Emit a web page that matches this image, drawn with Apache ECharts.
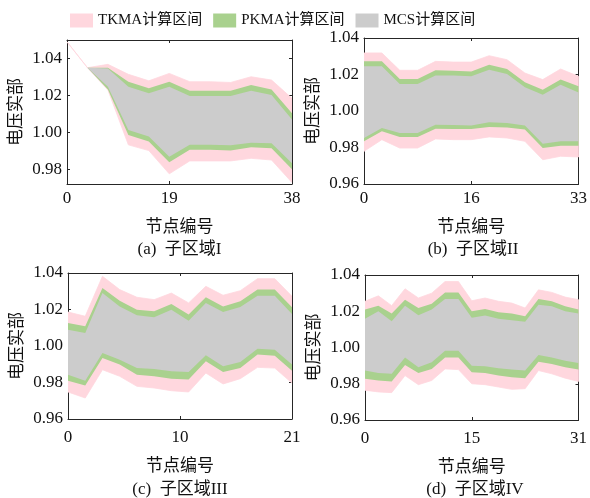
<!DOCTYPE html>
<html>
<head>
<meta charset="utf-8">
<script src="https://cdn.jsdelivr.net/npm/echarts@6/dist/echarts.min.js"></script>
<style>
  html, body { margin: 0; padding: 0; background: #fff; }
  #chart { width: 590px; height: 498px; }
</style>
</head>
<body>
<div id="chart"></div>
<script>
// legend names and band colours
const bandNames = ['TKMA计算区间', 'PKMA计算区间', 'MCS计算区间'];
const bandColors = ['#ffd7de', '#a9d18e', '#cccccc'];

// (a) 子区域I, 12 points
const aTkUp = [1.049, 1.035, 1.0368, 1.0314, 1.0279, 1.0319, 1.0274, 1.0274, 1.027, 1.0301, 1.0283, 1.0184];
const aTkLo = [1.049, 1.035, 1.0229, 0.9932, 0.9901, 0.9775, 0.9845, 0.9845, 0.9845, 0.9859, 0.985, 0.9728];
const aPkUp = [1.049, 1.035, 1.035, 1.0274, 1.0238, 1.0274, 1.0225, 1.0225, 1.0225, 1.0256, 1.0232, 1.0103];
const aPkLo = [1.049, 1.035, 1.0232, 0.9986, 0.995, 0.9838, 0.9905, 0.9905, 0.9901, 0.9919, 0.9914, 0.98];
const aMcUp = [1.049, 1.035, 1.0346, 1.0247, 1.0211, 1.0247, 1.0196, 1.0196, 1.0196, 1.0225, 1.0202, 1.007];
const aMcLo = [1.049, 1.035, 1.0247, 1.0013, 0.9977, 0.9868, 0.9932, 0.9932, 0.993, 0.9944, 0.9941, 0.9832];

// (b) 子区域II, 13 points
const bTkUp = [1.0318, 1.0318, 1.0223, 1.0223, 1.0272, 1.0268, 1.0268, 1.0303, 1.0281, 1.0208, 1.0172, 1.023, 1.019];
const bTkLo = [0.9779, 0.9843, 0.9797, 0.9797, 0.9847, 0.9843, 0.9843, 0.9858, 0.9852, 0.9834, 0.9733, 0.9752, 0.9748];
const bPkUp = [1.0272, 1.0272, 1.0175, 1.0175, 1.0223, 1.0221, 1.0217, 1.0254, 1.023, 1.0157, 1.0117, 1.0172, 1.0135];
const bPkLo = [0.9834, 0.9889, 0.9858, 0.9858, 0.9903, 0.9901, 0.9901, 0.9912, 0.991, 0.9898, 0.9797, 0.981, 0.981];
const bMcUp = [1.0245, 1.0245, 1.0148, 1.0148, 1.0194, 1.0194, 1.019, 1.0226, 1.0203, 1.013, 1.0089, 1.0144, 1.0102];
const bMcLo = [0.9852, 0.9907, 0.9879, 0.9879, 0.9925, 0.9923, 0.9921, 0.9938, 0.9934, 0.992, 0.9821, 0.9834, 0.9834];

// (c) 子区域III, 14 points
const cTkUp = [1.0186, 1.0163, 1.0382, 1.0309, 1.0267, 1.0254, 1.029, 1.0236, 1.0327, 1.0278, 1.0303, 1.0369, 1.0369, 1.0272];
const cTkLo = [0.9748, 0.9715, 0.987, 0.9834, 0.9779, 0.977, 0.9755, 0.9748, 0.9852, 0.9792, 0.9821, 0.9883, 0.9879, 0.9797];
const cPkUp = [1.0126, 1.0108, 1.0318, 1.0248, 1.0199, 1.019, 1.023, 1.0172, 1.0267, 1.0217, 1.0245, 1.0309, 1.0309, 1.0212];
const cPkLo = [0.981, 0.9783, 0.9934, 0.9898, 0.9843, 0.9834, 0.9821, 0.9816, 0.9916, 0.9858, 0.9879, 0.9953, 0.9947, 0.9865];
const cMcUp = [1.0089, 1.0071, 1.029, 1.0217, 1.0168, 1.0157, 1.0199, 1.0139, 1.0236, 1.0186, 1.0214, 1.0276, 1.0276, 1.0175];
const cMcLo = [0.9843, 0.981, 0.9962, 0.9925, 0.9879, 0.9874, 0.9861, 0.9858, 0.9949, 0.9889, 0.9912, 0.9985, 0.998, 0.9898];

// (d) 子区域IV, 17 points
const dTkUp = [1.0255, 1.0285, 1.0231, 1.0324, 1.0273, 1.03, 1.0364, 1.0364, 1.0258, 1.0273, 1.0255, 1.0245, 1.0218, 1.0318, 1.0304, 1.0278, 1.0264];
const dTkLo = [0.9764, 0.9755, 0.9751, 0.9845, 0.9795, 0.9818, 0.9882, 0.9878, 0.98, 0.9795, 0.9782, 0.9769, 0.9773, 0.9873, 0.9855, 0.9831, 0.9813];
const dPkUp = [1.0209, 1.0231, 1.0187, 1.0264, 1.0218, 1.0242, 1.0304, 1.0304, 1.02, 1.0213, 1.0195, 1.0187, 1.0173, 1.0267, 1.0255, 1.0227, 1.0209];
const dPkLo = [0.9827, 0.9818, 0.9813, 0.9904, 0.986, 0.9882, 0.9945, 0.9945, 0.9864, 0.986, 0.9845, 0.9836, 0.9831, 0.9922, 0.9909, 0.9891, 0.9878];
const dMcUp = [1.0158, 1.02, 1.0145, 1.0231, 1.0178, 1.0209, 1.0267, 1.0267, 1.0164, 1.0176, 1.0158, 1.0151, 1.0142, 1.0236, 1.0227, 1.02, 1.0187];
const dMcLo = [0.9873, 0.986, 0.9855, 0.9945, 0.9891, 0.9918, 0.9982, 0.9982, 0.99, 0.9896, 0.9885, 0.9878, 0.9873, 0.9958, 0.9945, 0.9927, 0.9915];

// x tick positions (point index) and their node labels
const aTickPos = [0, 5, 11];
const aTickLabels = ['0', '19', '38'];
const bTickPos = [0, 6, 12];
const bTickLabels = ['0', '16', '33'];
const cTickPos = [0, 6.5, 13];
const cTickLabels = ['0', '10', '21'];
const dTickPos = [0, 8, 16];
const dTickLabels = ['0', '15', '31'];

const yTicks = [0.96, 0.98, 1.0, 1.02, 1.04];

const panels = [
  { bands: [[aTkLo, aTkUp], [aPkLo, aPkUp], [aMcLo, aMcUp]], tickPos: aTickPos, tickLabels: aTickLabels,
    yMin: 0.972, yMax: 1.05, caption: '(a)  子区域I', captionY: 250, labelMargin: 6, nameGap: 35,
    grid: { left: 67, top: 40, width: 225, height: 144 } },
  { bands: [[bTkLo, bTkUp], [bPkLo, bPkUp], [bMcLo, bMcUp]], tickPos: bTickPos, tickLabels: bTickLabels,
    yMin: 0.96, yMax: 1.04, caption: '(b)  子区域II', captionY: 250, labelMargin: 6, nameGap: 35,
    grid: { left: 364, top: 38, width: 218, height: 146 } },
  { bands: [[cTkLo, cTkUp], [cPkLo, cPkUp], [cMcLo, cMcUp]], tickPos: cTickPos, tickLabels: cTickLabels,
    yMin: 0.96, yMax: 1.04, caption: '(c)  子区域III', captionY: 490, labelMargin: 10, nameGap: 39,
    grid: { left: 68, top: 273, width: 224, height: 146 } },
  { bands: [[dTkLo, dTkUp], [dPkLo, dPkUp], [dMcLo, dMcUp]], tickPos: dTickPos, tickLabels: dTickLabels,
    yMin: 0.96, yMax: 1.04, caption: '(d)  子区域IV', captionY: 490, labelMargin: 10, nameGap: 39,
    grid: { left: 365, top: 275, width: 220, height: 145 } },
];

const FONT = '"Liberation Serif", "Noto Sans CJK SC", serif';
const AXIS_COLOR = '#262626';
const TEXT_COLOR = '#111';

const grids = [];
const xAxes = [];
const yAxes = [];
const series = [];
const graphics = [];

function bandRender(lo, hi, color, outline) {
  return function (params, api) {
    if (params.dataIndex !== 0) return null;
    const pts = [];
    for (let i = 0; i < hi.length; i += 1) pts.push(api.coord([i, hi[i]]));
    for (let i = lo.length - 1; i >= 0; i -= 1) pts.push(api.coord([i, lo[i]]));
    const style = { fill: color };
    if (outline) {
      // keeps the zero-width start of panel (a) visible as a thin line
      style.stroke = color;
      style.lineWidth = 0.8;
    }
    return { type: 'polygon', shape: { points: pts }, style };
  };
}

panels.forEach((p, gi) => {
  const n = p.bands[0][0].length;
  grids.push(Object.assign({ show: false }, p.grid));
  const yt = yTicks.filter((v) => v >= p.yMin - 1e-9 && v <= p.yMax + 1e-9);

  const xi = xAxes.length;
  xAxes.push({
    type: 'value', gridIndex: gi, position: 'bottom', min: 0, max: n - 1,
    axisLine: { show: true, onZero: false, lineStyle: { color: AXIS_COLOR, width: 1 } },
    axisTick: { show: true, inside: true, length: 3, customValues: p.tickPos, lineStyle: { color: AXIS_COLOR } },
    axisLabel: {
      customValues: p.tickPos, margin: p.labelMargin, fontSize: 17, fontFamily: FONT, color: TEXT_COLOR,
      formatter: (v) => p.tickLabels[p.tickPos.indexOf(v)],
    },
    splitLine: { show: false },
    name: '节点编号', nameLocation: 'middle', nameGap: p.nameGap,
    nameTextStyle: { fontSize: 17, fontFamily: FONT, color: TEXT_COLOR },
  });
  xAxes.push({
    type: 'value', gridIndex: gi, position: 'top', min: 0, max: n - 1,
    axisLine: { show: true, onZero: false, lineStyle: { color: AXIS_COLOR, width: 1 } },
    axisTick: { show: true, inside: true, length: 3, customValues: p.tickPos, lineStyle: { color: AXIS_COLOR } },
    axisLabel: { show: false }, splitLine: { show: false },
  });

  const yi = yAxes.length;
  yAxes.push({
    type: 'value', gridIndex: gi, position: 'left', min: p.yMin, max: p.yMax,
    axisLine: { show: true, onZero: false, lineStyle: { color: AXIS_COLOR, width: 1 } },
    axisTick: { show: true, inside: true, length: 3, customValues: yt, lineStyle: { color: AXIS_COLOR } },
    axisLabel: {
      customValues: yt, margin: 5, fontSize: 17, fontFamily: FONT, color: TEXT_COLOR,
      formatter: (v) => v.toFixed(2),
    },
    splitLine: { show: false },
    name: '电压实部', nameLocation: 'middle', nameGap: 42,
    nameTextStyle: { fontSize: 17, fontFamily: FONT, color: TEXT_COLOR },
  });
  yAxes.push({
    type: 'value', gridIndex: gi, position: 'right', min: p.yMin, max: p.yMax,
    axisLine: { show: true, onZero: false, lineStyle: { color: AXIS_COLOR, width: 1 } },
    axisTick: { show: true, inside: true, length: 3, customValues: yt, lineStyle: { color: AXIS_COLOR } },
    axisLabel: { show: false }, splitLine: { show: false },
  });

  p.bands.forEach((b, k) => {
    const [lo, hi] = b;
    series.push({
      name: bandNames[k],
      type: 'custom',
      xAxisIndex: xi,
      yAxisIndex: yi,
      clip: true,
      silent: true,
      itemStyle: { color: bandColors[k] },
      encode: { x: 0, y: [1, 2] },
      data: lo.map((v, i) => [i, v, hi[i]]),
      renderItem: bandRender(lo, hi, bandColors[k], k === 0),
      z: 2 + k,
    });
  });

  graphics.push({
    type: 'text',
    x: p.grid.left + p.grid.width / 2,
    y: p.captionY,
    style: {
      text: p.caption, font: '17px ' + FONT, fill: TEXT_COLOR,
      align: 'center', verticalAlign: 'middle',
    },
  });
});

const chart = echarts.init(document.getElementById('chart'), null, { renderer: 'canvas' });
chart.setOption({
  animation: false,
  backgroundColor: '#fff',
  legend: {
    left: 65,
    top: 8,
    icon: 'rect',
    itemWidth: 23,
    itemHeight: 14,
    itemGap: 11,
    textStyle: { fontSize: 15, fontFamily: FONT, color: TEXT_COLOR },
    data: bandNames.map((name, k) => ({ name, itemStyle: { color: bandColors[k] } })),
  },
  grid: grids,
  xAxis: xAxes,
  yAxis: yAxes,
  series,
  graphic: graphics,
});
</script>
</body>
</html>
